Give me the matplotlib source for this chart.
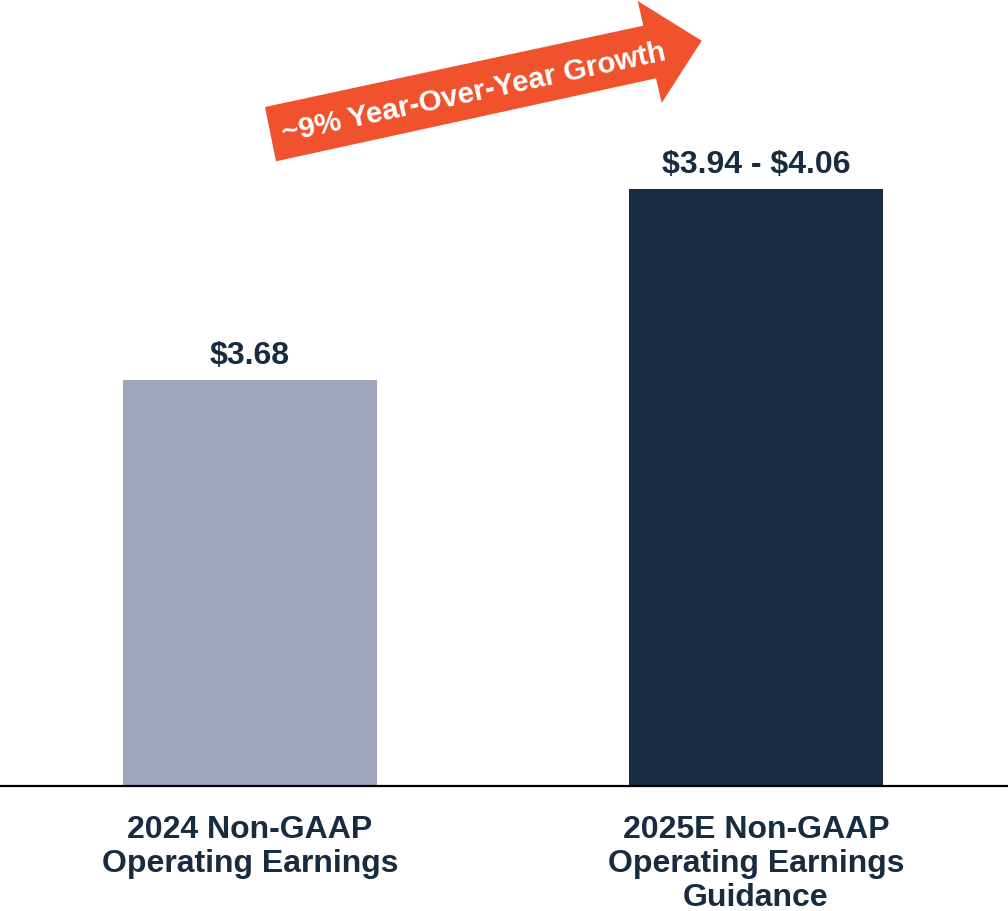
import matplotlib
matplotlib.use("Agg")
import matplotlib.pyplot as plt
from matplotlib.patches import Polygon

# ---- data ----
categories = ["2024 Non-GAAP\nOperating Earnings",
              "2025E Non-GAAP\nOperating Earnings\nGuidance"]
values = [3.68, 4.00]
value_labels = ["$3.68", "$3.94 - $4.06"]
growth_text = "~9% Year-Over-Year Growth"

bar_colors = ["#9EA5BA", "#172B41"]
text_color = "#172B41"
arrow_color = "#F0522D"

plt.rcParams['font.family'] = ['Liberation Sans', 'DejaVu Sans']

W, H = 1008, 912
fig = plt.figure(figsize=(W / 100, H / 100), dpi=100)
ax = fig.add_axes([0, 1 - 787 / H, 1, 787 / H])

base = 3.0
x = list(range(len(categories)))
ax.bar(x, [v - base for v in values], bottom=base, width=0.502,
       color=bar_colors, zorder=2)
ax.set_xlim(-0.494, 1.498)
ax.set_ylim(base, base + 787 / 597)

for xi, v, lab in zip(x, values, value_labels):
    ax.annotate(lab, (xi, v), xytext=(0, 12.5), textcoords="offset points",
                ha="center", va="baseline", fontsize=23, fontweight="bold",
                color=text_color, parse_math=False)

for s in ["top", "left", "right"]:
    ax.spines[s].set_visible(False)
ax.spines["bottom"].set_linewidth(1.6)
ax.spines["bottom"].set_color("black")
ax.set_yticks([])
ax.set_xticks(x)
ax.set_xticklabels(categories, fontsize=23, fontweight="bold",
                   color=text_color, linespacing=1.17)
ax.tick_params(axis="x", length=0, pad=20)

# ---- growth arrow (decoration, figure pixel space) ----
pts_px = [(265, 108), (643.3, 26.7), (637.7, 2), (701.7, 41.7),
          (661.7, 104), (656, 79.3), (276, 162.3)]
pts = [(px / W, 1 - py / H) for px, py in pts_px]
fig.add_artist(Polygon(pts, closed=True, transform=fig.transFigure,
                       facecolor=arrow_color, edgecolor="none"))
fig.text(474 / W, 1 - 93 / H, growth_text, rotation=12.1,
         rotation_mode="anchor", ha="center", va="center",
         fontsize=21.3, fontweight="bold", color="white", parse_math=False)

fig.savefig("out.png", dpi=100)
